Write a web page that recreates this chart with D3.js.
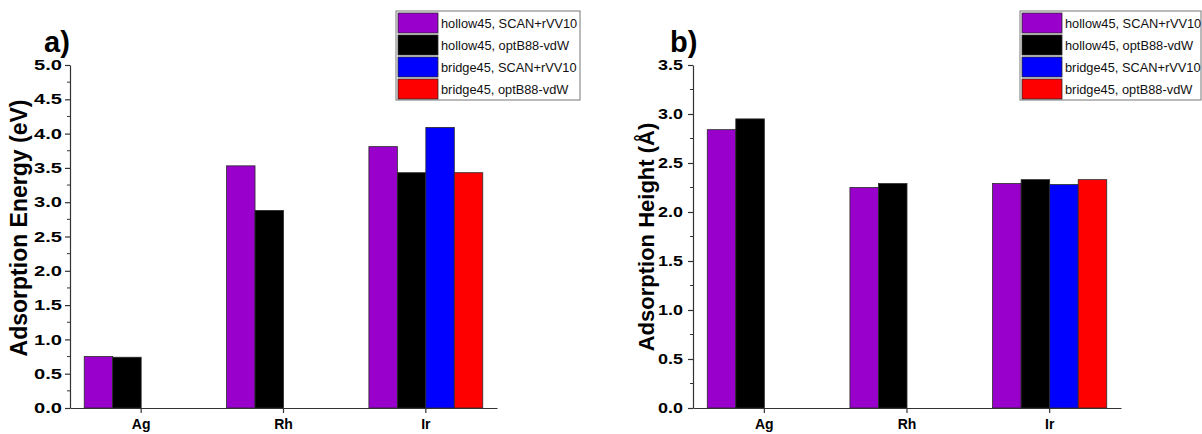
<!DOCTYPE html>
<html lang="en">
<head>
    <meta charset="UTF-8">
    <title>Adsorption</title>
    <script src="https://d3js.org/d3.v7.min.js"></script>
    <style>
        body { margin: 0; background: #fff; }
        text { font-family: Arial, "Liberation Sans", sans-serif; }
    </style>
</head>
<body>
<script>
    var width = 1202, height = 434;

    // categories and series
    var categories = ["Ag", "Rh", "Ir"];
    var seriesNames = ["hollow45, SCAN+rVV10", "hollow45, optB88-vdW", "bridge45, SCAN+rVV10", "bridge45, optB88-vdW"];
    var seriesColors = ["#9900cc", "#000000", "#0000ff", "#ff0000"];

    // a) adsorption energy (eV)
    var energyHollowScan = [0.75, 3.53, 3.81];
    var energyHollowOpt = [0.74, 2.88, 3.43];
    var energyBridgeScan = [null, null, 4.09];
    var energyBridgeOpt = [null, null, 3.43];
    var energyTicks = [0, 0.5, 1, 1.5, 2, 2.5, 3, 3.5, 4, 4.5, 5];

    // b) adsorption height (A)
    var heightHollowScan = [2.84, 2.25, 2.29];
    var heightHollowOpt = [2.95, 2.29, 2.33];
    var heightBridgeScan = [null, null, 2.28];
    var heightBridgeOpt = [null, null, 2.33];
    var heightTicks = [0, 0.5, 1, 1.5, 2, 2.5, 3, 3.5];

    var svg = d3.select('body').append('svg').attr('width', width).attr('height', height);

    function drawPanel(opts) {
        var g = svg.append('g');
        var x = d3.scaleBand().domain(categories).range([opts.x0, opts.x1]).padding(0);
        var groupW = x.bandwidth() * 0.8;
        var xs = d3.scaleBand().domain(d3.range(seriesNames.length)).range([-groupW / 2, groupW / 2]);
        var y = d3.scaleLinear().domain([0, opts.max]).range([408, 65]);

        // bars
        opts.values.forEach(function (vals, si) {
            g.selectAll(null)
                .data(vals.map(function (v, i) { return {cat: categories[i], v: v}; })
                    .filter(function (d) { return d.v != null; }))
                .join('rect')
                .attr('x', function (d) { return x(d.cat) + x.bandwidth() / 2 + xs(si); })
                .attr('y', function (d) { return y(d.v); })
                .attr('width', xs.bandwidth())
                .attr('height', function (d) { return y(0) - y(d.v); })
                .attr('fill', seriesColors[si])
                .attr('stroke', '#2a2a2a')
                .attr('stroke-width', 0.8);
        });

        // minor ticks on y
        var minor = d3.range(0.25, opts.max, 0.5);
        g.selectAll(null).data(minor).join('line')
            .attr('x1', opts.x0 - 3).attr('x2', opts.x0)
            .attr('y1', function (d) { return y(d); })
            .attr('y2', function (d) { return y(d); })
            .attr('stroke', '#333').attr('stroke-width', 1);

        var yAxis = g.append('g').attr('transform', 'translate(' + opts.x0 + ',0)')
            .call(d3.axisLeft(y).tickValues(opts.ticks).tickFormat(d3.format('.1f'))
                .tickSize(5).tickSizeOuter(0).tickPadding(opts.tickPad));
        yAxis.selectAll('text').attr('font-size', 14.5).attr('font-weight', 'bold').attr('fill', '#000')
            .attr('textLength', opts.tickLen).attr('lengthAdjust', 'spacingAndGlyphs')
            .style('font-family', 'Arial, "Liberation Sans", sans-serif');
        yAxis.selectAll('line,path').attr('stroke', '#333').attr('stroke-width', 1.2);

        var xAxis = g.append('g').attr('transform', 'translate(0,408)')
            .call(d3.axisBottom(x).tickSize(5).tickSizeOuter(0).tickPadding(6));
        xAxis.selectAll('text').attr('font-size', 14).attr('font-weight', 'bold').attr('fill', '#000')
            .style('font-family', 'Arial, "Liberation Sans", sans-serif');
        xAxis.selectAll('line,path').attr('stroke', '#333').attr('stroke-width', 1.2);

        // axis title
        g.append('text')
            .attr('transform', 'translate(' + opts.titleX + ',' + opts.titleY + ') rotate(-90)')
            .attr('text-anchor', 'middle')
            .attr('font-size', opts.titleSize).attr('font-weight', 'bold')
            .text(opts.title);

        // panel label
        g.append('text')
            .attr('x', opts.labelX).attr('y', 52)
            .attr('font-size', 29).attr('font-weight', 'bold')
            .text(opts.label);

        // legend
        var lg = g.append('g').attr('transform', 'translate(' + opts.legX + ',11)');
        lg.append('rect').attr('x', 0).attr('y', 0).attr('width', opts.legW).attr('height', 89)
            .attr('fill', '#fff').attr('stroke', '#777').attr('stroke-width', 1);
        seriesNames.forEach(function (name, i) {
            lg.append('rect').attr('x', 2).attr('y', 2 + i * 22).attr('width', 40).attr('height', 20)
                .attr('fill', seriesColors[i]).attr('stroke', '#2a2a2a').attr('stroke-width', 0.8);
            lg.append('text').attr('x', 45).attr('y', 17 + i * 22)
                .attr('font-size', 12.8).attr('fill', '#111').text(name);
        });
    }

    drawPanel({
        x0: 70, x1: 497, max: 5, ticks: energyTicks, tickPad: 3, tickLen: 28,
        values: [energyHollowScan, energyHollowOpt, energyBridgeScan, energyBridgeOpt],
        title: 'Adsorption Energy (eV)', titleX: 27, titleY: 228, titleSize: 23,
        label: 'a)', labelX: 44,
        legX: 396, legW: 184
    });

    drawPanel({
        x0: 693, x1: 1121, max: 3.5, ticks: heightTicks, tickPad: 5, tickLen: 25,
        values: [heightHollowScan, heightHollowOpt, heightBridgeScan, heightBridgeOpt],
        title: 'Adsorption Height (\u00c5)', titleX: 654, titleY: 237, titleSize: 22,
        label: 'b)', labelX: 670,
        legX: 1020, legW: 181
    });
</script>
</body>
</html>
